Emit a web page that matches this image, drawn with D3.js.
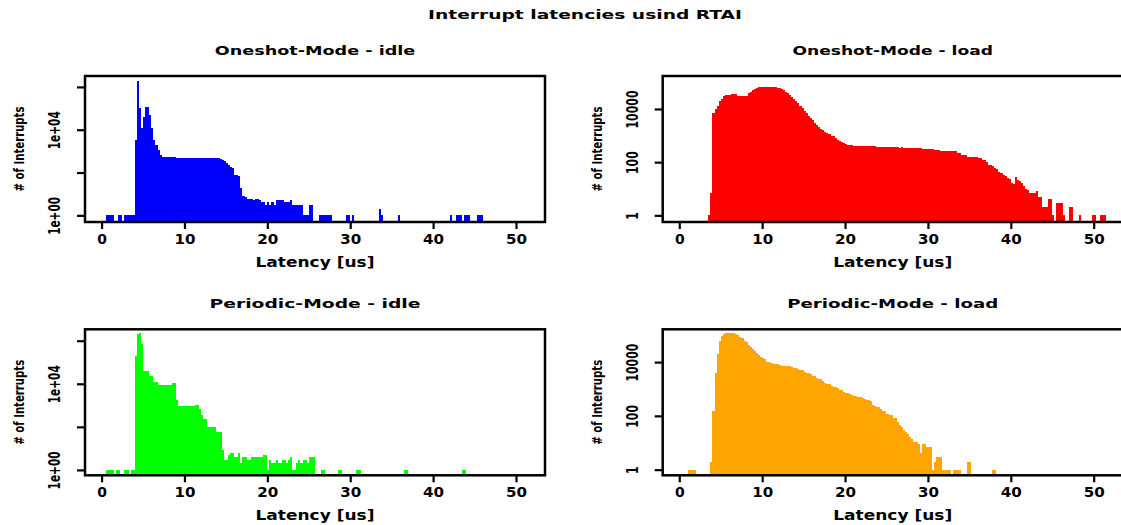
<!DOCTYPE html>
<html>
<head>
<meta charset="utf-8">
<script src="https://cdn.jsdelivr.net/npm/d3@7"></script>
<style>
body { margin: 0; background: #fff; }
text { font-family: "DejaVu Sans", "Liberation Sans", sans-serif; font-weight: bold; fill: #000; }
</style>
</head>
<body>
<div id="chart"></div>
<script>
let width = 1121, height = 525;

let mainTitle = "Interrupt latencies usind RTAI";
let xTitle = "Latency [us]";
let yTitle = "# of Interrupts";

// histogram bins are 0.25 us wide, first bin starts at 0 us
let binWidth = 0.25;
let xTicks = [0, 10, 20, 30, 40, 50];
let idleTicks = [1, 1e2, 1e4, 1e6];
let idleTickLabels = ["1e+00", "", "1e+04", ""];
let loadTicks = [1, 100, 10000];
let loadTickLabels = ["1", "100", "10000"];

// counts per bin, one line = 2 us
let oneshotIdle = [
    0, 0, 1, 1, 1, 1, 0, 0,
    1, 1, 0, 1, 1, 1, 1, 1,
    3300, 1800000, 100000, 12000, 40000, 110000, 110000, 49000,
    12000, 3300, 1900, 1100, 660, 550, 560, 550,
    550, 540, 550, 520, 470, 470, 460, 470,
    460, 460, 470, 460, 470, 470, 460, 470,
    470, 460, 470, 470, 460, 470, 470, 460,
    470, 440, 380, 330, 270, 230, 175, 160,
    76, 76, 70, 18, 8, 7, 6, 6,
    6, 5, 6, 6, 5, 4, 4, 3,
    4, 3, 4, 3, 5, 5, 5, 5,
    4, 4, 4, 5, 3, 3, 3, 3,
    3, 1, 1, 1, 3, 3, 0, 0,
    0, 1, 1, 1, 1, 1, 1, 0,
    0, 0, 0, 0, 0, 0, 1, 1,
    0, 1, 0, 0, 0, 0, 0, 0,
    0, 0, 0, 0, 0, 0, 2, 1,
    0, 0, 0, 0, 0, 0, 0, 1,
    0, 0, 0, 0, 0, 0, 0, 0,
    0, 0, 0, 0, 0, 0, 0, 0,
    0, 0, 0, 0, 0, 0, 0, 0,
    1, 0, 0, 1, 1, 1, 0, 1,
    1, 1, 0, 0, 0, 1, 1, 1
];

let oneshotLoad = [
    0, 0, 0, 0, 0, 0, 0, 0,
    0, 0, 0, 0, 0, 0, 1, 7,
    7000, 10000, 13000, 20000, 24000, 30000, 33000, 34000,
    34000, 36000, 37000, 36000, 31000, 31000, 31000, 31000,
    31000, 39000, 42000, 50000, 55000, 60000, 66000, 66000,
    66000, 66000, 66000, 66000, 66000, 66000, 66000, 64000,
    60000, 57000, 50000, 45000, 40000, 33000, 29000, 24000,
    20000, 17000, 13000, 11000, 8500, 6900, 5500, 4500,
    3800, 2900, 2500, 2100, 1800, 1600, 1400, 1300,
    1150, 1000, 930, 800, 700, 620, 560, 520,
    480, 450, 440, 430, 420, 400, 410, 400,
    400, 390, 400, 410, 400, 400, 390, 370,
    370, 360, 370, 360, 360, 370, 360, 360,
    360, 360, 350, 360, 340, 340, 340, 340,
    340, 340, 340, 340, 340, 320, 320, 320,
    320, 320, 320, 290, 290, 290, 270, 270,
    270, 270, 270, 270, 270, 270, 230, 230,
    190, 185, 180, 160, 160, 160, 160, 160,
    140, 140, 120, 120, 100, 80, 78, 70,
    59, 55, 44, 40, 33, 30, 25, 24,
    16, 15, 27, 21, 19, 16, 13, 10,
    9, 7, 7, 7, 8, 5, 5, 2,
    2, 2, 4, 4, 1, 0, 3, 3,
    3, 1, 0, 0, 2, 2, 0, 0,
    0, 1, 0, 0, 0, 0, 0, 1,
    1, 0, 0, 1, 1, 1
];

let periodicIdle = [
    0, 0, 1, 1, 1, 1, 0, 1,
    1, 0, 0, 1, 1, 0, 1, 1,
    200000, 2000000, 2200000, 700000, 40000, 40000, 40000, 24000,
    24000, 12000, 12000, 8500, 8500, 8500, 8500, 8500,
    8500, 8500, 11000, 11000, 1800, 900, 900, 900,
    900, 900, 900, 900, 900, 1000, 1000, 700,
    360, 220, 220, 100, 100, 100, 100, 55,
    55, 55, 8, 3, 3, 5, 6, 6,
    4, 4, 6, 2, 4, 4, 3, 3,
    4, 4, 4, 4, 4, 4, 5, 5,
    1, 3, 2, 2, 3, 2, 2, 3,
    3, 2, 3, 4, 1, 1, 2, 3,
    2, 3, 3, 2, 4, 4, 4, 0,
    0, 0, 1, 1, 0, 0, 0, 0,
    0, 0, 1, 1, 0, 0, 0, 0,
    0, 0, 0, 1, 1, 0, 0, 0,
    0, 0, 0, 0, 0, 0, 0, 0,
    0, 0, 0, 0, 0, 0, 0, 0,
    0, 0, 1, 1, 0, 0, 0, 0,
    0, 0, 0, 0, 0, 0, 0, 0,
    0, 0, 0, 0, 0, 0, 0, 0,
    0, 0, 0, 0, 0, 0, 1, 1
];

let periodicLoad = [
    0, 0, 0, 0, 1, 1, 1, 1,
    0, 0, 0, 0, 0, 0, 0, 2,
    150, 4000, 20000, 60000, 90000, 110000, 117000, 117000,
    118000, 118000, 117000, 115000, 100000, 88000, 76000, 62000,
    55000, 43000, 38000, 32000, 26000, 22000, 18000, 16000,
    13700, 12500, 10200, 10200, 9000, 8400, 8400, 8400,
    7800, 7300, 7300, 7300, 7300, 7200, 6800, 6200,
    6200, 5400, 5000, 5000, 4400, 4000, 4000, 3600,
    3000, 3000, 2600, 2300, 2300, 2000, 1700, 1600,
    1500, 1300, 1230, 1200, 1050, 940, 900, 800,
    720, 700, 640, 590, 560, 540, 490, 490,
    460, 430, 390, 390, 350, 250, 240, 210,
    210, 180, 155, 155, 120, 107, 107, 81,
    81, 60, 46, 40, 30, 26, 22, 17,
    14, 11, 11, 9, 4, 9, 9, 7,
    7, 7, 1, 2, 3, 3, 3, 1,
    1, 1, 1, 0, 1, 1, 1, 1,
    0, 0, 0, 2, 2, 0, 0, 0,
    0, 0, 0, 0, 0, 0, 0, 1,
    1
];

let plotW = 460, plotH = 146;
let xDomain = [-2.0, 53.5];

let panels = [
    {title: "Oneshot-Mode - idle", counts: oneshotIdle, color: "#0000ff", left: 85, top: 76,
     yExp: [-0.31, 6.51], ticks: idleTicks, labels: idleTickLabels},
    {title: "Oneshot-Mode - load", counts: oneshotLoad, color: "#ff0000", left: 662.7, top: 76,
     yExp: [-0.25, 5.24], ticks: loadTicks, labels: loadTickLabels},
    {title: "Periodic-Mode - idle", counts: periodicIdle, color: "#00ff00", left: 85, top: 329.3,
     yExp: [-0.25, 6.53], ticks: idleTicks, labels: idleTickLabels},
    {title: "Periodic-Mode - load", counts: periodicLoad, color: "#ffa500", left: 662.7, top: 329.3,
     yExp: [-0.21, 5.22], ticks: loadTicks, labels: loadTickLabels}
];

let svg = d3.select("#chart").append("svg")
    .attr("width", width)
    .attr("height", height);

svg.append("rect")
    .attr("width", width)
    .attr("height", height)
    .attr("fill", "#fff");

svg.append("text")
    .attr("x", 585)
    .attr("y", 19)
    .attr("text-anchor", "middle")
    .style("font-size", "12px")
    .attr("textLength", 314)
    .attr("lengthAdjust", "spacingAndGlyphs")
    .text(mainTitle);

panels.forEach(drawPanel);

function drawPanel(p){
    let g = svg.append("g")
        .attr("transform", `translate(${p.left},${p.top})`);

    let x = d3.scaleLinear().domain(xDomain).range([0, plotW]);
    let y = d3.scaleLog().domain([10 ** p.yExp[0], 10 ** p.yExp[1]]).range([plotH, 0]);

    let bins = p.counts
        .map((n, i) => ({x0: i * binWidth, x1: (i + 1) * binWidth, n: n}))
        .filter(d => d.n > 0);

    // snap bar edges to whole pixels so neighbouring bars meet without seams
    let px = v => Math.round(x(v) + p.left) - p.left;

    g.selectAll(".bar")
        .data(bins)
        .enter().append("rect")
        .attr("class", "bar")
        .attr("x", d => px(d.x0))
        .attr("width", d => px(d.x1) - px(d.x0))
        .attr("y", d => y(d.n))
        .attr("height", d => plotH - y(d.n))
        .attr("fill", p.color)
        .attr("shape-rendering", "crispEdges");

    // x axis
    let gx = g.append("g")
        .attr("transform", `translate(0,${plotH})`)
        .call(d3.axisBottom(x).tickValues(xTicks).tickFormat(d3.format("d")).tickSize(7).tickPadding(5));
    gx.select(".domain").remove();
    gx.selectAll("line").attr("stroke-width", 2.2);
    gx.selectAll("text")
        .style("font-size", "14px")
        .attr("textLength", d => String(d).length * 11.3 - 1.6)
        .attr("lengthAdjust", "spacingAndGlyphs");

    // y axis, labels turned like R's las=0
    let gy = g.append("g")
        .call(d3.axisLeft(y).tickValues(p.ticks).tickFormat((d, i) => p.labels[i]).tickSize(8));
    gy.select(".domain").remove();
    gy.selectAll("line").attr("stroke-width", 2.2);
    gy.selectAll("text")
        .attr("x", null)
        .attr("dy", null)
        .attr("text-anchor", "middle")
        .attr("transform", "translate(-25,0) rotate(-90)")
        .style("font-size", "15px")
        .each(function(){
            let t = d3.select(this);
            let s = t.text();
            if (s.length) t.attr("textLength", s.length * 7.6).attr("lengthAdjust", "spacingAndGlyphs");
        });

    // box around the plot region
    g.append("rect")
        .attr("width", plotW)
        .attr("height", plotH)
        .attr("fill", "none")
        .attr("stroke", "#000")
        .attr("stroke-width", 2.5);

    g.append("text")
        .attr("x", plotW / 2)
        .attr("y", -21)
        .attr("text-anchor", "middle")
        .style("font-size", "12px")
        .attr("textLength", p.title.length * 10.55)
        .attr("lengthAdjust", "spacingAndGlyphs")
        .text(p.title);

    g.append("text")
        .attr("x", plotW / 2)
        .attr("y", plotH + 45)
        .attr("text-anchor", "middle")
        .style("font-size", "14px")
        .attr("textLength", 119)
        .attr("lengthAdjust", "spacingAndGlyphs")
        .text(xTitle);

    g.append("text")
        .attr("transform", `translate(-61,${plotH / 2}) rotate(-90)`)
        .attr("text-anchor", "middle")
        .style("font-size", "14px")
        .attr("textLength", 85)
        .attr("lengthAdjust", "spacingAndGlyphs")
        .text(yTitle);
}
</script>
</body>
</html>
